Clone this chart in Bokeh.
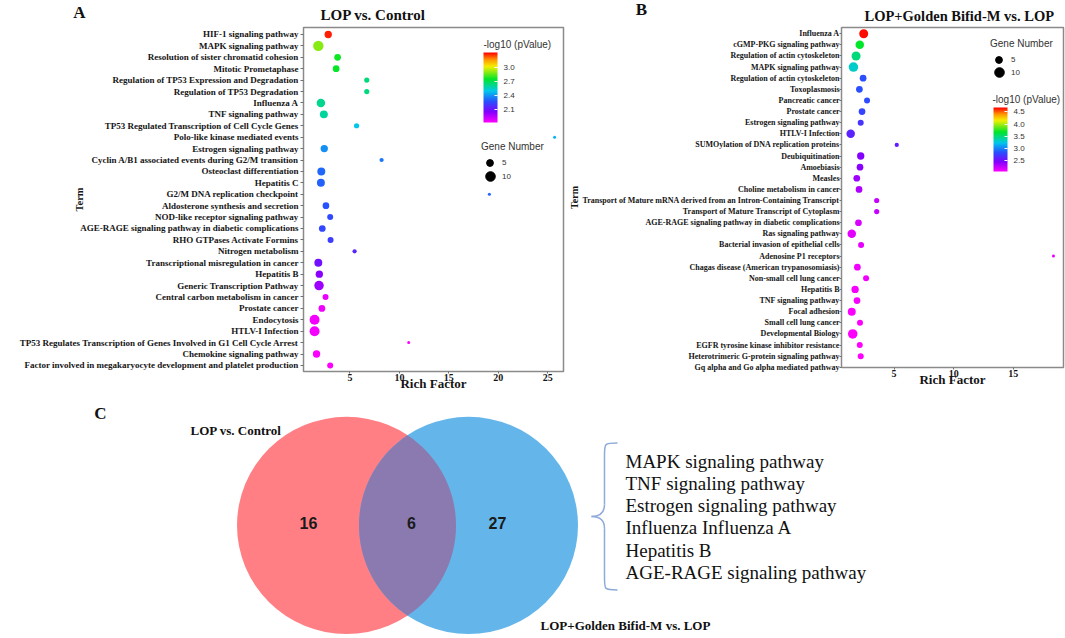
import numpy as np
from bokeh.plotting import figure
from bokeh.models import (Range1d, FixedTicker, ColorBar, LinearColorMapper, Legend, LegendItem,
                          Label, ColumnDataSource, PrintfTickFormatter)
from bokeh.layouts import column, row
from bokeh.embed import file_html
from bokeh.resources import INLINE
from bokeh.core.properties import value

# ---------------- data: panel A ----------------
a_title = "LOP vs. Control"
a_terms = ["HIF-1 signaling pathway", "MAPK signaling pathway", "Resolution of sister chromatid cohesion",
           "Mitotic Prometaphase", "Regulation of TP53 Expression and Degradation", "Regulation of TP53 Degradation",
           "Influenza A", "TNF signaling pathway", "TP53 Regulated Transcription of Cell Cycle Genes",
           "Polo-like kinase mediated events", "Estrogen signaling pathway",
           "Cyclin A/B1 associated events during G2/M transition", "Osteoclast differentiation", "Hepatitis C",
           "G2/M DNA replication checkpoint", "Aldosterone synthesis and secretion",
           "NOD-like receptor signaling pathway", "AGE-RAGE signaling pathway in diabetic complications",
           "RHO GTPases Activate Formins", "Nitrogen metabolism", "Transcriptional misregulation in cancer",
           "Hepatitis B", "Generic Transcription Pathway", "Central carbon metabolism in cancer", "Prostate cancer",
           "Endocytosis", "HTLV-I Infection",
           "TP53 Regulates Transcription of Genes Involved in G1 Cell Cycle Arrest", "Chemokine signaling pathway",
           "Factor involved in megakaryocyte development and platelet production"]
a_rich_factor = [2.8, 1.8, 3.75, 3.6, 6.7, 6.7, 2.06, 2.36, 5.67, 25.7, 2.4, 8.2, 2.1, 2.06, 19.1, 2.57, 3.0,
                 2.2, 3.04, 5.47, 1.8, 1.9, 1.87, 2.53, 2.16, 1.42, 1.42, 10.94, 1.62, 3.0]
a_neg_log10_p = [3.28, 2.89, 2.76, 2.75, 2.64, 2.63, 2.61, 2.59, 2.49, 2.45, 2.39, 2.34, 2.31, 2.30, 2.30, 2.27,
                 2.25, 2.24, 2.21, 2.15, 2.09, 2.03, 2.00, 1.86, 1.85, 1.84, 1.84, 1.83, 1.83, 1.82]
a_gene_number = [6, 12, 5, 5, 3, 3, 8, 7, 3, 1, 6, 2, 7, 7, 1, 5, 4, 5, 4, 2, 7, 6, 10, 4, 5, 11, 11, 1, 6, 4]
a_x_ticks = [5, 10, 15, 20, 25]
a_cbar_ticks = [2.1, 2.4, 2.7, 3.0]

# ---------------- data: panel B ----------------
b_title = "LOP+Golden Bifid-M vs. LOP"
b_terms = ["Influenza A", "cGMP-PKG signaling pathway", "Regulation of actin cytoskeleton",
           "MAPK signaling pathway", "Regulation of actin cytoskeleton", "Toxoplasmosis", "Pancreatic cancer",
           "Prostate cancer", "Estrogen signaling pathway", "HTLV-I Infection",
           "SUMOylation of DNA replication proteins", "Deubiquitination", "Amoebiasis", "Measles",
           "Choline metabolism in cancer",
           "Transport of Mature mRNA derived from an Intron-Containing Transcript",
           "Transport of Mature Transcript of Cytoplasm", "AGE-RAGE signaling pathway in diabetic complications",
           "Ras signaling pathway", "Bacterial invasion of epithelial cells", "Adenosine P1 receptors",
           "Chagas disease (American trypanosomiasis)", "Non-small cell lung cancer", "Hepatitis B",
           "TNF signaling pathway", "Focal adhesion", "Small cell lung cancer", "Developmental Biology",
           "EGFR tyrosine kinase inhibitor resistance", "Heterotrimeric G-protein signaling pathway",
           "Gq alpha and Go alpha mediated pathway"]
nan = float("nan")
b_rich_factor = [2.46, 2.13, 1.82, 1.6, 2.41, 2.1, 2.74, 2.32, 2.21, 1.37, 5.23, 2.21, 2.15, 1.88, 2.07, 3.55,
                 3.55, 2.02, 1.46, 2.24, 18.36, 1.93, 2.66, 1.74, 1.9, 1.46, 2.15, 1.54, 2.13, 2.21, nan]
b_neg_log10_p = [4.65, 3.69, 3.5, 3.32, 2.85, 2.85, 2.83, 2.80, 2.72, 2.64, 2.59, 2.46, 2.44, 2.38, 2.33, 2.25,
                 2.25, 2.2, 2.17, 2.15, 2.15, 2.12, 2.12, 2.10, 2.10, 2.09, 2.08, 2.08, 2.07, 2.07, nan]
b_gene_number = [9, 8, 9, 10, 5, 5, 4, 5, 4, 8, 2, 6, 5, 5, 5, 3, 3, 5, 8, 4, 1, 5, 4, 6, 5, 7, 4, 10, 4, 4, nan]
b_x_ticks = [5, 10, 15]
b_cbar_ticks = [2.5, 3.0, 3.5, 4.0, 4.5]

gene_legend_values = [5, 10]
panel_letters = ["A", "B", "C"]

# ---------------- data: panel C ----------------
venn_set_labels = ["LOP vs. Control", "LOP+Golden Bifid-M vs. LOP"]
venn_counts = ["16", "6", "27"]
shared_terms = ["MAPK signaling pathway", "TNF signaling pathway", "Estrogen signaling pathway",
                "Influenza Influenza A", "Hepatitis B", "AGE-RAGE signaling pathway"]

# ---------------- styling helpers ----------------
SERIF = "Liberation Serif"
SANS = "Liberation Sans"
STOPS = [(0.0, (255, 0, 255)), (0.15, (130, 0, 255)), (0.3, (40, 80, 255)), (0.45, (0, 200, 235)),
         (0.62, (0, 230, 40)), (0.8, (245, 240, 0)), (0.9, (255, 150, 0)), (1.0, (255, 0, 0))]


def make_palette(n=256):
    out = []
    for i in range(n):
        t = i / (n - 1)
        for (t0, c0), (t1, c1) in zip(STOPS[:-1], STOPS[1:]):
            if t0 <= t <= t1:
                f = (t - t0) / (t1 - t0)
                c = [int(round(a + (b - a) * f)) for a, b in zip(c0, c1)]
                break
        out.append("#%02x%02x%02x" % tuple(c))
    return out


PAL = make_palette()


def dot_size(n):
    return 3.0 * np.sqrt(np.asarray(n, dtype=float))


def bubble_panel(terms, rich, logp, genes, x_ticks, cb_ticks, cfg):
    n = len(terms)
    src = ColumnDataSource(dict(rich=np.asarray(rich, float), row=np.arange(n, dtype=float),
                                logp=np.asarray(logp, float), size=dot_size(genes)))
    p = figure(frame_width=cfg["fw"], frame_height=cfg["fh"], output_backend="svg", toolbar_location=None,
               title=None,
               x_range=Range1d(*cfg["xr"]), y_range=Range1d(cfg["y_bottom"], -cfg["y_top_pad"]),
               min_border_left=cfg["bl"], min_border_right=cfg["br"],
               min_border_top=cfg["bt"], min_border_bottom=cfg["bb"])
    mapper = LinearColorMapper(palette=PAL, low=cfg["cb_low"], high=cfg["cb_high"])
    p.scatter("rich", "row", source=src, size="size",
              fill_color={"field": "logp", "transform": mapper}, line_color=None)

    p.grid.visible = False
    p.outline_line_color = "#8a8a8a"
    p.outline_line_width = 1.5
    p.background_fill_color = "white"

    p.xaxis.ticker = FixedTicker(ticks=x_ticks)
    p.yaxis.ticker = FixedTicker(ticks=list(range(n)))
    p.yaxis.major_label_overrides = {i: t for i, t in enumerate(terms)}
    for ax in (p.xaxis[0], p.yaxis[0]):
        ax.axis_line_color = None
        ax.major_tick_in = 0
        ax.minor_tick_line_color = None
        ax.major_tick_line_color = "#707070"
        ax.major_label_text_font = SERIF
        ax.major_label_text_font_style = "bold"
        ax.major_label_text_color = "#151515"
        ax.axis_label_text_font = SERIF
        ax.axis_label_text_font_style = "bold"
        ax.axis_label_text_color = "#151515"
    p.yaxis.major_tick_out = cfg["ytick_out"]
    p.yaxis.major_label_text_font_size = cfg["ylab_size"]
    p.yaxis.major_label_standoff = cfg["ylab_standoff"]
    p.xaxis.major_tick_out = 2
    p.xaxis.major_label_text_font_size = "10px"
    p.xaxis.major_label_standoff = 0
    p.xaxis.axis_label = "Rich Factor"
    p.xaxis.axis_label_text_font_size = "13px"
    p.xaxis.axis_label_standoff = -8
    p.yaxis.axis_label = "Term"
    p.yaxis.axis_label_text_font_size = cfg["term_size"]
    p.yaxis.axis_label_standoff = cfg["term_standoff"]

    cb = ColorBar(color_mapper=mapper, ticker=FixedTicker(ticks=cb_ticks),
                  formatter=PrintfTickFormatter(format="%.1f"), orientation="vertical",
                  width=14, height=cfg["cb_height"], location=cfg["cb_loc"],
                  padding=0, margin=0, background_fill_alpha=0, border_line_color=None, bar_line_color=None,
                  major_label_text_font=SANS, major_label_text_font_size="8px",
                  major_label_text_color="#333333", label_standoff=6,
                  major_tick_line_color="white", major_tick_in=3, major_tick_out=0,
                  minor_tick_line_color=None)
    p.add_layout(cb)
    p.add_layout(Label(x=cfg["cb_title_xy"][0], y=cfg["cb_title_xy"][1], x_units="screen", y_units="screen",
                       text="-log10 (pValue)", text_font=SANS, text_font_size="10px", text_color="#333333",
                       text_align="left", text_baseline="middle"))

    leg_src = ColumnDataSource(dict(x=[nan, nan], y=[nan, nan]))
    lr = p.scatter("x", "y", source=leg_src, size=5, color="black")
    common = dict(padding=0, margin=0, border_line_color=None, background_fill_alpha=0,
                  label_text_font=SANS, label_text_font_size="8px", label_text_color="#333333",
                  label_height=10, spacing=0)
    l1 = Legend(items=[LegendItem(label=str(gene_legend_values[0]), renderers=[lr], index=0)],
                title="Gene Number", title_text_font=SANS, title_text_font_size="10px",
                title_text_font_style="normal", title_text_color="#333333", title_standoff=2,
                glyph_width=17, glyph_height=17, label_standoff=4, location=cfg["leg5_loc"], **common)
    l2 = Legend(items=[LegendItem(label=str(gene_legend_values[1]), renderers=[lr], index=1)],
                glyph_width=24, glyph_height=24, label_standoff=0, location=cfg["leg10_loc"], **common)
    p.add_layout(l1)
    p.add_layout(l2)
    return p


pa = bubble_panel(a_terms, a_rich_factor, a_neg_log10_p, a_gene_number, a_x_ticks, a_cbar_ticks, dict(
    fw=260, fh=344, bl=303, br=2, bt=0, bb=24, xr=(0.3, 26.6), y_bottom=29.53, y_top_pad=0.61,
    ylab_size="9px", ylab_standoff=2, ytick_out=3, term_size="10.5px",
    cb_low=1.82, cb_high=3.31, cb_height=70, cb_loc=(180, 249), cb_title_xy=(180, 327),
    leg5_loc=(178, 200), leg10_loc=(175, 183), term_standoff=-68))

pb = bubble_panel(b_terms, b_rich_factor, b_neg_log10_p, b_gene_number, b_x_ticks, b_cbar_ticks, dict(
    fw=222, fh=340, bl=276, br=2, bt=3, bb=25, xr=(0.6, 19.2), y_bottom=30.02, y_top_pad=0.56,
    ylab_size="8px", ylab_standoff=0, ytick_out=2, term_size="10px",
    cb_low=2.07, cb_high=4.68, cb_height=64, cb_loc=(152, 196), cb_title_xy=(151, 268),
    leg5_loc=(149, 299), leg10_loc=(146, 283), term_standoff=-1))

# ---------------- header strip: panel letters and panel titles ----------------
ph = figure(width=1065, height=24, output_backend="svg", toolbar_location=None, title=None,
            x_range=Range1d(0, 1065), y_range=Range1d(24, 0), min_border=0)
ph.axis.visible = False
ph.grid.visible = False
ph.outline_line_color = None
ph.text(x=[79, 641], y=[12, 9], text=panel_letters[:2], text_font=value(SERIF), text_font_style="bold",
        text_font_size="17px", text_align="center", text_baseline="middle", text_color="#111111")
ph.text(x=[320], y=[14], text=[a_title], text_font=value(SERIF), text_font_style="bold",
        text_font_size="15px", text_align="left", text_baseline="middle", text_color="#111111")
ph.text(x=[864], y=[15], text=[b_title], text_font=value(SERIF), text_font_style="bold",
        text_font_size="14.5px", text_align="left", text_baseline="middle", text_color="#111111")

# ---------------- panel C : Venn ----------------
pc = figure(width=1065, height=244, output_backend="svg", toolbar_location=None, title=None,
            x_range=Range1d(0, 1065), y_range=Range1d(638, 392), min_border=0)
pc.axis.visible = False
pc.grid.visible = False
pc.outline_line_color = None

VCX = [346.0, 468.0]
VCY = 526.0
VR = 109.5
pc.ellipse(x=[VCX[0]], y=[VCY], width=2 * VR, height=2 * VR, fill_color="#ff7f84", line_color=None)
pc.ellipse(x=[VCX[1]], y=[VCY], width=2 * VR, height=2 * VR, fill_color="#64b6ea", line_color=None)
half = (VCX[1] - VCX[0]) / 2
hh = np.sqrt(VR ** 2 - half ** 2)
th = np.arctan2(hh, half)
t1 = np.linspace(-th, th, 80)
t2 = np.linspace(np.pi - th, np.pi + th, 80)
lens_x = np.concatenate([VCX[0] + VR * np.cos(t1), VCX[1] + VR * np.cos(t2)])
lens_y = np.concatenate([VCY + VR * np.sin(t1), VCY + VR * np.sin(t2)])
pc.patch(lens_x, lens_y, fill_color="#8b7ab0", line_color=None)

pc.text(x=[308, 411, 497], y=[524, 524, 524], text=venn_counts, text_font=value(SANS), text_font_style="bold",
        text_font_size="16px", text_align="center", text_baseline="middle", text_color="#1a1a1a")
pc.text(x=[190, 540], y=[430, 627], text=venn_set_labels, text_font=value(SERIF), text_font_style="bold",
        text_font_size="13px", text_align="left", text_baseline="middle", text_color="#111111")
pc.text(x=[100], y=[413], text=panel_letters[2:], text_font=value(SERIF), text_font_style="bold",
        text_font_size="17px", text_align="center", text_baseline="middle", text_color="#111111")
pc.text(x=[625] * len(shared_terms), y=[462, 484, 506, 528, 551, 573], text=shared_terms,
        text_font=value(SERIF), text_font_size="19px", text_align="left", text_baseline="middle",
        text_color="#111111")

BR = "#8eaadb"
pc.bezier(x0=[617, 604, 591, 604], y0=[443, 505, 517, 579], x1=[604, 591, 604, 617], y1=[455, 517, 529, 591],
          cx0=[604, 604, 597, 604], cy0=[443, 515, 517, 591], cx1=[604, 597, 604, 604],
          cy1=[443, 517, 519, 591], line_color=BR, line_width=1.5)
pc.segment(x0=[604, 604], y0=[455, 529], x1=[604, 604], y1=[505, 579], line_color=BR, line_width=1.5)

layout = column(ph, row(pa, pb), pc)
open("out.html", "w").write(file_html(layout, INLINE))
